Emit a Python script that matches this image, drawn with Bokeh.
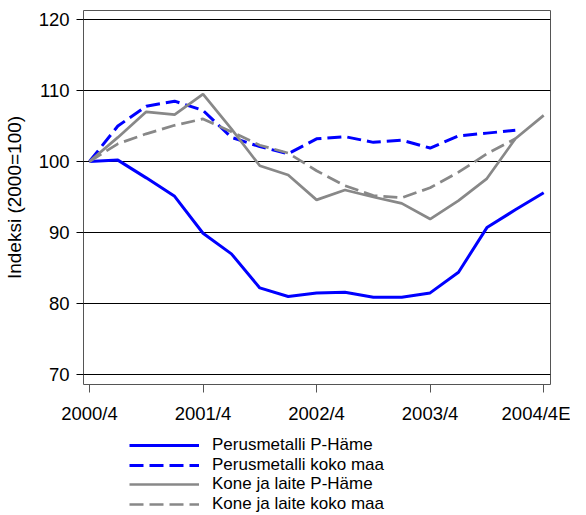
from bokeh.plotting import figure
from bokeh.models import FixedTicker, Legend, LegendItem
from bokeh.layouts import column
from bokeh.embed import file_html
from bokeh.resources import INLINE

quarters = ["2000/4", "2001/1", "2001/2", "2001/3", "2001/4", "2002/1", "2002/2", "2002/3",
            "2002/4", "2003/1", "2003/2", "2003/3", "2003/4", "2004/1", "2004/2", "2004/3", "2004/4E"]
tick_labels = ["2000/4", "2001/4", "2002/4", "2003/4", "2004/4E"]

pm_hame = [100, 100.2, 97.7, 95.1, 89.9, 87.0, 82.2, 81.0, 81.5, 81.6, 80.9, 80.9, 81.5, 84.4, 90.7, 93.2, 95.6]
pm_koko = [100, 105.0, 107.8, 108.5, 107.2, 103.4, 102.1, 101.1, 103.2, 103.5, 102.7, 103.0, 101.9, 103.6, 104.0, 104.4]
kl_hame = [100, 103.4, 107.0, 106.6, 109.5, 104.6, 99.4, 98.1, 94.6, 96.0, 95.0, 94.1, 91.9, 94.5, 97.6, 103.2, 106.5]
kl_koko = [100, 102.5, 103.9, 105.1, 106.0, 104.2, 102.3, 101.2, 98.7, 96.6, 95.2, 94.9, 96.3, 98.5, 101.1, 103.2]

names = ["Perusmetalli P-Häme", "Perusmetalli koko maa", "Kone ja laite P-Häme", "Kone ja laite koko maa"]
series = [pm_hame, pm_koko, kl_hame, kl_koko]

FONT = "Liberation Sans"
BLUE = "#0000ff"
GRAY = "#888888"
styles = [dict(line_color=BLUE, line_width=3),
          dict(line_color=BLUE, line_width=3, line_dash="14 6"),
          dict(line_color=GRAY, line_width=2.7),
          dict(line_color=GRAY, line_width=2.7, line_dash="14 6")]

p = figure(width=570, height=430, output_backend="svg", toolbar_location=None,
           x_range=(-0.21, 16.24), y_range=(68.6, 121.27),
           min_border_left=76, min_border_right=20, min_border_top=10, min_border_bottom=46)

p.outline_line_color = "#555555"
p.outline_line_width = 1
p.background_fill_color = "white"
p.border_fill_color = "white"

x_all = list(range(len(quarters)))
for s, st in zip(series, styles):
    p.line(x_all[:len(s)], s, **st)

# x axis
xa = p.xaxis[0]
xa.ticker = FixedTicker(ticks=[0, 4, 8, 12, 16])
xa.major_label_overrides = {0: tick_labels[0], 4: tick_labels[1], 8: tick_labels[2],
                            12: tick_labels[3], 16: tick_labels[4]}
xa.axis_line_color = None
xa.minor_tick_line_color = None
xa.major_tick_in = 0
xa.major_tick_out = 8
xa.major_tick_line_color = "#555555"
xa.major_label_standoff = 10
xa.major_label_text_font = FONT
xa.major_label_text_font_size = "18.5px"
xa.major_label_text_color = "black"

# y axis
ya = p.yaxis[0]
ya.ticker = FixedTicker(ticks=[70, 80, 90, 100, 110, 120])
ya.axis_line_color = None
ya.minor_tick_line_color = None
ya.major_tick_in = 0
ya.major_tick_out = 7
ya.major_tick_line_color = "black"
ya.major_label_standoff = 7
ya.major_label_text_font = FONT
ya.major_label_text_font_size = "18.5px"
ya.major_label_text_color = "black"
ya.axis_label = "Indeksi (2000=100)"
ya.axis_label_text_font = FONT
ya.axis_label_text_font_size = "19px"
ya.axis_label_text_font_style = "normal"
ya.axis_label_text_color = "black"
ya.axis_label_standoff = 11

p.xgrid.grid_line_color = None
p.ygrid.ticker = FixedTicker(ticks=[70, 80, 90, 100, 110, 120])
p.ygrid.grid_line_color = "black"
p.ygrid.grid_line_width = 1

# legend in its own strip below the chart (its lines lie outside this strip's ranges)
lf = figure(width=570, height=84, output_backend="svg", toolbar_location=None,
            x_range=(0, 1), y_range=(0, 1), x_axis_location=None, y_axis_location=None,
            min_border_left=0, min_border_right=0, min_border_top=0, min_border_bottom=0)
lf.outline_line_color = None
lf.xgrid.grid_line_color = None
lf.ygrid.grid_line_color = None
lf.border_fill_color = "white"
lrs = [lf.line(x_all[:len(s)], s, **st) for s, st in zip(series, styles)]

row_offsets = [58.8, 39.2, 19.6, 0]
for n, r, yo in zip(names, lrs, row_offsets):
    lg = Legend(items=[LegendItem(label=n, renderers=[r])], location=(46, yo))
    lg.padding = 0
    lg.spacing = 0
    lg.border_line_color = None
    lg.background_fill_alpha = 0
    lg.glyph_width = 70
    lg.glyph_height = 18
    lg.label_height = 18
    lg.label_standoff = 13
    lg.label_text_font = FONT
    lg.label_text_font_size = "17px"
    lg.label_text_color = "black"
    lf.add_layout(lg, "center")

layout = column(p, lf, spacing=0)
open("out.html", "w").write(file_html(layout, INLINE))
